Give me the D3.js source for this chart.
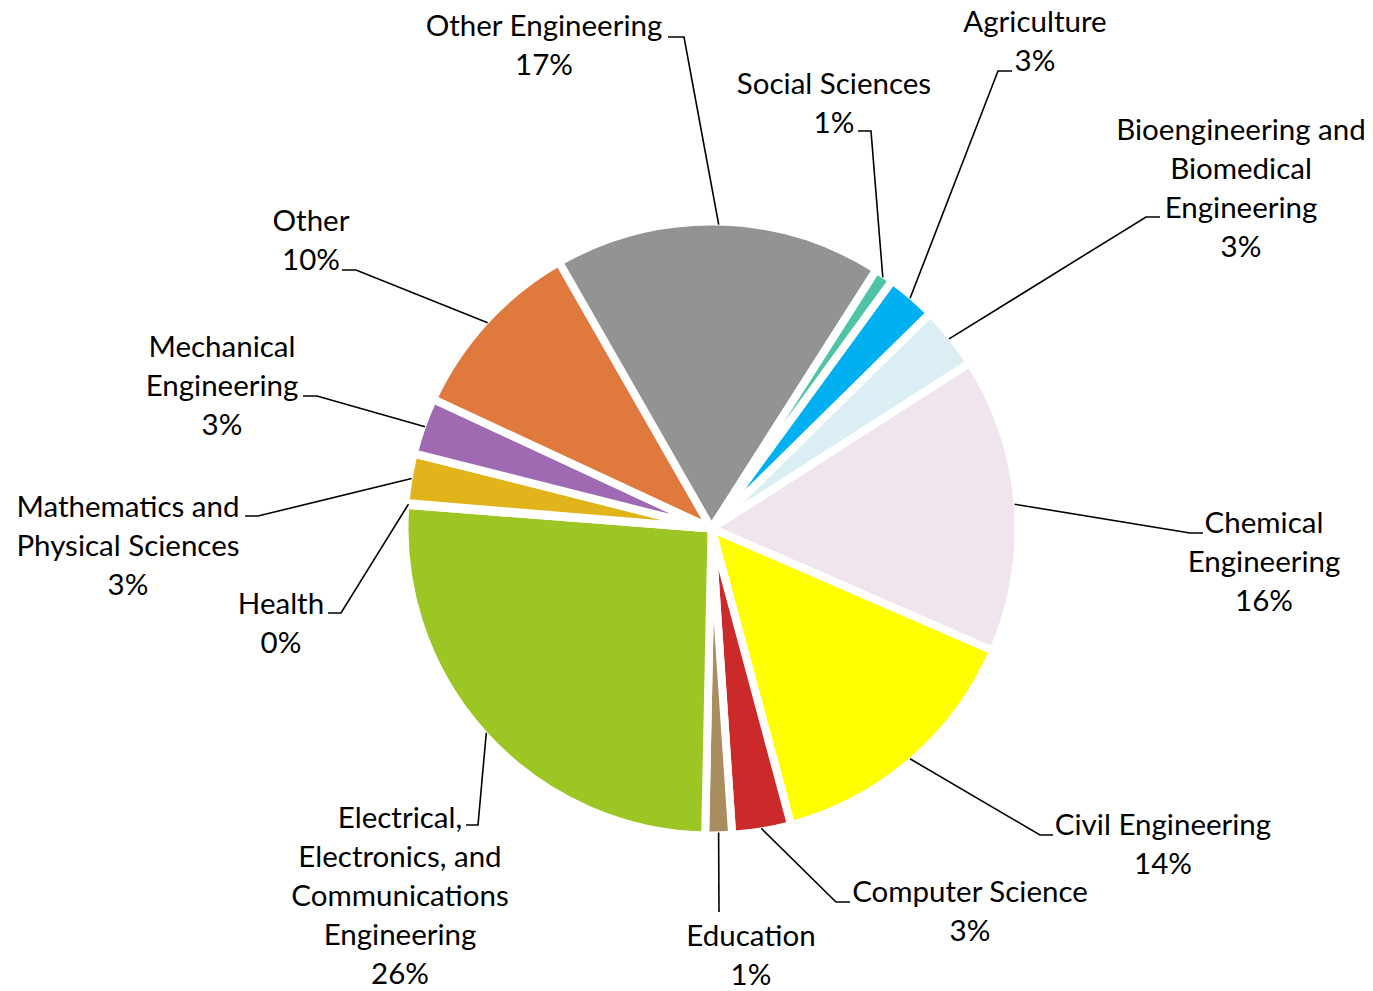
<!DOCTYPE html>
<html>
<head>
<meta charset="utf-8">
<script src="https://cdn.jsdelivr.net/npm/d3@7"></script>
<style>
  html, body { margin: 0; padding: 0; background: #fff; }
  svg { display: block; }
  text { font-family: Lato, "Open Sans", sans-serif; fill: #000; }
</style>
</head>
<body>
<svg id="chart" width="1373" height="991"></svg>
<script>
// ---- data ----
const categories = [
  "Agriculture",
  "Bioengineering and Biomedical Engineering",
  "Chemical Engineering",
  "Civil Engineering",
  "Computer Science",
  "Education",
  "Electrical, Electronics, and Communications Engineering",
  "Health",
  "Mathematics and Physical Sciences",
  "Mechanical Engineering",
  "Other",
  "Other Engineering",
  "Social Sciences"
];
const shares = [2.6, 3.3, 15.6, 14.3, 3.1, 1.4, 25.9, 0.1, 2.6, 3.0, 9.8, 17.3, 1.0];
const labelLines = [
  ["Agriculture"],
  ["Bioengineering and", "Biomedical", "Engineering"],
  ["Chemical", "Engineering"],
  ["Civil Engineering"],
  ["Computer Science"],
  ["Education"],
  ["Electrical,", "Electronics, and", "Communications", "Engineering"],
  ["Health"],
  ["Mathematics and", "Physical Sciences"],
  ["Mechanical", "Engineering"],
  ["Other"],
  ["Other Engineering"],
  ["Social Sciences"]
];
const colors = ["#00B0F0", "#DAEEF3", "#F0E4EE", "#FFFF00", "#CC2A2A", "#A98C5F",
                "#9BC623", "#4472C4", "#E1B41B", "#A06AB2", "#E0793E", "#939393", "#4FC3A6"];

// ---- layout (label placement, not data) ----
// tx, ty: text block center x / first-line center y; ex, ey: leader elbow; hx: end of horizontal stub
const labelLayout = [
  {tx: 1035, ty: 22,  ex: 998,  ey: 71,  hx: 1012},
  {tx: 1241, ty: 130, ex: 1146, ey: 217, hx: 1160},
  {tx: 1264, ty: 523, ex: 1190, ey: 533, hx: 1203},
  {tx: 1163, ty: 825, ex: 1040, ey: 835, hx: 1053},
  {tx: 970,  ty: 892, ex: 836,  ey: 902, hx: 850},
  {tx: 751,  ty: 936, ex: 719,  ey: 912, hx: 719},
  {tx: 400,  ty: 818, ex: 478,  ey: 825, hx: 466},
  {tx: 281,  ty: 604, ex: 341,  ey: 613, hx: 328},
  {tx: 128,  ty: 507, ex: 258,  ey: 516, hx: 245},
  {tx: 222,  ty: 347, ex: 317,  ey: 396, hx: 303},
  {tx: 311,  ty: 221, ex: 356,  ey: 270, hx: 342},
  {tx: 544,  ty: 26,  ex: 684,  ey: 37,  hx: 668},
  {tx: 834,  ty: 84,  ex: 871,  ey: 131, hx: 858}
];

const cx = 711.5, cy = 528.5, R = 307, border = 8, lineH = 39;
const startDeg = 36.1;

const data = categories.map((c, i) => ({name: c, value: shares[i], i}));
const total = d3.sum(shares);

const pie = d3.pie().sort(null).value(d => d.value)
  .startAngle(startDeg * Math.PI / 180)
  .endAngle(startDeg * Math.PI / 180 + 2 * Math.PI);
const arcs = pie(data);
const arc = d3.arc().innerRadius(0).outerRadius(R);

const svg = d3.select("#chart");
const g = svg.append("g").attr("transform", `translate(${cx},${cy})`);

g.selectAll("path.slice")
  .data(arcs)
  .join("path")
  .attr("class", "slice")
  .attr("fill", d => colors[d.data.i])
  .attr("stroke", "#fff")
  .attr("stroke-width", border)
  .attr("stroke-linejoin", "round")
  .attr("d", arc);

// leader lines + labels
const pctFmt = v => Math.round(v / total * 100) + "%";
const rLead = R - border / 2 + 1;
arcs.forEach(d => {
  const L = labelLayout[d.data.i];
  const a = (d.startAngle + d.endAngle) / 2;
  const p0 = [cx + rLead * Math.sin(a), cy - rLead * Math.cos(a)];
  const pts = [p0, [L.ex, L.ey], [L.hx, L.ey]];
  svg.append("path")
    .attr("d", d3.line()(pts))
    .attr("fill", "none")
    .attr("stroke", "#000")
    .attr("stroke-width", 1.6);

  const lines = labelLines[d.data.i].concat([pctFmt(d.data.value)]);
  const t = svg.append("text")
    .attr("text-anchor", "middle")
    .attr("font-size", 29.5);
  lines.forEach((ln, k) => {
    t.append("tspan")
      .attr("x", L.tx)
      .attr("y", L.ty + k * lineH)
      .attr("dy", "0.35em")
      .text(ln);
  });
});
</script>
</body>
</html>
